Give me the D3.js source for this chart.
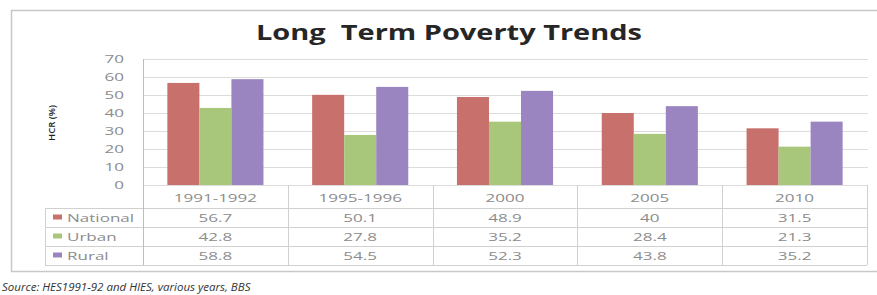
<!DOCTYPE html>
<html lang="en">
<head>
    <meta charset="UTF-8">
    <title>Long Term Poverty Trends</title>
    <script src="https://d3js.org/d3.v7.min.js"></script>
    <style>
        body { margin: 0; background: #fff; }
        svg { display: block; font-family: "Open Sans", "Liberation Sans", sans-serif; }
    </style>
</head>
<body>
    <svg id="canvas"></svg>
    <script>
let years = ['1991-1992', '1995-1996', '2000', '2005', '2010']
let seriesNames = ['National', 'Urban', 'Rural']
let national = [56.7, 50.1, 48.9, 40, 31.5]
let urban = [42.8, 27.8, 35.2, 28.4, 21.3]
let rural = [58.8, 54.5, 52.3, 43.8, 35.2]
let yTicks = [0, 10, 20, 30, 40, 50, 60, 70]

let tableLabels = [
  ['56.7', '50.1', '48.9', '40', '31.5'],
  ['42.8', '27.8', '35.2', '28.4', '21.3'],
  ['58.8', '54.5', '52.3', '43.8', '35.2']
]

let colors = ['#c8716c', '#a8c77b', '#9b85c0']

let width = 877
let height = 295
let plotLeft = 143
let plotRight = 867
let plotTop = 59
let plotBottom = 185
let tableLeft = 45
let rowH = 19
let headerBottom = 208
let stretch = 1.55   // the source picture is squeezed wide, so the text is too
let textGrey = '#8c8c8c'

let svg = d3.select('svg')
svg.attr('width', width).attr('height', height)

let seriesValues = [national, urban, rural]

let xScale = d3.scaleBand()
               .domain(years)
               .range([plotLeft, plotRight])
let innerScale = d3.scaleBand()
                   .domain(seriesNames)
                   .range([0, xScale.bandwidth()])
                   .paddingInner(0)
                   .paddingOuter(0.76)
let yScale = d3.scaleLinear()
               .domain([0, 70])
               .range([plotBottom, plotTop])

let wideText = (g, x, y, txt, anchor) => {
  return g.append('text')
          .attr('transform', 'translate(' + x + ',' + y + ') scale(' + stretch + ',1)')
          .attr('text-anchor', anchor)
          .attr('font-size', 11)
          .attr('fill', textGrey)
          .text(txt)
}

// outer frame
svg.append('rect')
   .attr('x', 11.5).attr('y', 10.5)
   .attr('width', 880).attr('height', 261)
   .attr('fill', 'none')
   .attr('stroke', '#c8c8c8')
   .attr('stroke-width', 1.5)

// title
svg.append('text')
   .attr('x', 449).attr('y', 40)
   .attr('text-anchor', 'middle')
   .attr('font-size', 21)
   .attr('font-weight', 'bold')
   .attr('fill', '#262626')
   .attr('textLength', 386)
   .attr('lengthAdjust', 'spacingAndGlyphs')
   .style('white-space', 'pre')
   .text('Long  Term Poverty Trends')

// gridlines
svg.append('g')
   .selectAll('line')
   .data(yTicks)
   .enter()
   .append('line')
   .attr('x1', plotLeft).attr('x2', plotRight + 1)
   .attr('y1', d => Math.round(yScale(d)) + 0.5)
   .attr('y2', d => Math.round(yScale(d)) + 0.5)
   .attr('stroke', '#dcdcdc')

// y tick labels
let yAxis = d3.axisLeft(yScale).tickValues(yTicks).tickSize(0).tickPadding(12.3)
let yg = svg.append('g')
   .attr('transform', 'translate(' + plotLeft + ',0)')
   .call(yAxis)
yg.select('.domain').remove()
yg.selectAll('text')
  .attr('transform', 'scale(' + stretch + ',1)')
  .attr('font-size', 11)
  .attr('fill', textGrey)
  .attr('font-family', '"Open Sans", "Liberation Sans", sans-serif')

// y label
svg.append('text')
   .attr('transform', 'translate(55,123) rotate(-90)')
   .attr('text-anchor', 'middle')
   .attr('font-size', 9.5)
   .attr('font-weight', 600)
   .attr('fill', '#222')
   .text('HCR (%)')

// bars
let groups = svg.append('g')
   .selectAll('g')
   .data(years)
   .enter()
   .append('g')
   .attr('transform', d => 'translate(' + xScale(d) + ',0)')

groups.selectAll('rect')
   .data((d, i) => seriesNames.map((s, j) => ({ s: s, v: seriesValues[j][i], c: colors[j] })))
   .enter()
   .append('rect')
   .attr('x', d => innerScale(d.s))
   .attr('width', innerScale.bandwidth())
   .attr('y', d => yScale(d.v))
   .attr('height', d => plotBottom - yScale(d.v))
   .attr('fill', d => d.c)

// table lines
let tableBottom = headerBottom + rowH * 3
let rowLines = [0, 1, 2, 3].map(i => headerBottom + i * rowH)
svg.append('g')
   .selectAll('line')
   .data(rowLines)
   .enter()
   .append('line')
   .attr('x1', tableLeft).attr('x2', plotRight)
   .attr('y1', d => d + 0.5).attr('y2', d => d + 0.5)
   .attr('stroke', '#d0d0d0')

let vLines = years.map(y => xScale(y)).concat([plotRight])
svg.append('g')
   .selectAll('line')
   .data(vLines)
   .enter()
   .append('line')
   .attr('x1', d => Math.round(d) + 0.5).attr('x2', d => Math.round(d) + 0.5)
   .attr('y1', (d, i) => i == 0 ? plotTop : plotBottom)
   .attr('y2', tableBottom)
   .attr('stroke', (d, i) => i == 0 ? '#bdbdbd' : '#d0d0d0')

svg.append('line')
   .attr('x1', tableLeft + 0.5).attr('x2', tableLeft + 0.5)
   .attr('y1', headerBottom).attr('y2', tableBottom)
   .attr('stroke', '#d0d0d0')

// header row
let header = svg.append('g')
years.forEach(y => {
  wideText(header, xScale(y) + xScale.bandwidth() / 2, 202, y, 'middle')
})

// legend cells + values
seriesNames.forEach((s, j) => {
  let yMid = headerBottom + j * rowH + rowH / 2
  let row = svg.append('g')
  row.append('rect')
     .attr('x', 53).attr('y', yMid - 3)
     .attr('width', 9).attr('height', 5)
     .attr('fill', colors[j])
  wideText(row, 67, yMid + 4, s, 'start')
  tableLabels[j].forEach((v, i) => {
    wideText(row, xScale(years[i]) + xScale.bandwidth() / 2, yMid + 4, v, 'middle')
  })
})

// source
svg.append('text')
   .attr('x', 2).attr('y', 291)
   .attr('font-size', 11.5)
   .attr('font-style', 'italic')
   .attr('fill', '#333')
   .text('Source: HES1991-92 and HIES, various years, BBS')
    </script>
</body>
</html>
